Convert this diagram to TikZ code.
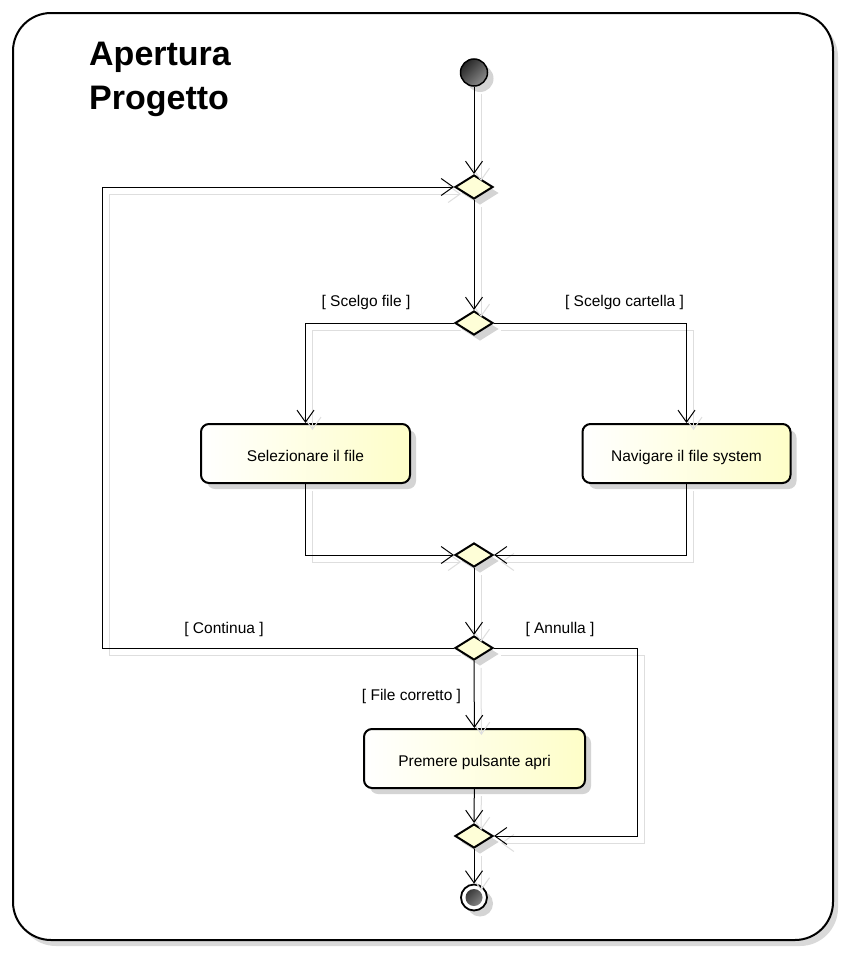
\documentclass[tikz,border=0pt]{standalone}
\usepackage{fontspec}
\setmainfont{Liberation Sans}
\usetikzlibrary{arrows.meta,shapes.geometric,shadows}
\definecolor{lyel}{RGB}{254,254,200}
\definecolor{dyel}{RGB}{254,254,215}
\newcommand{\lab}{\fontsize{15.5}{18}\selectfont}
\begin{document}
\begin{tikzpicture}[x=1pt,y=-1pt,
  lshadow/.style={preaction={draw=black!13, line width=1pt, transform canvas={shift={(7pt,-7pt)}}}},
  conn/.style={line width=1pt, -{Straight Barb[length=12pt,width=17pt,line width=1pt]}, lshadow},
  nshadow/.style={drop shadow={shadow xshift=6pt, shadow yshift=-6pt, fill=black!17, opacity=1}},
  actbox/.style={draw, line width=2pt, rounded corners=8pt, minimum height=59pt, inner sep=0pt,
     text height=15.5pt, text depth=0pt,
     left color=white, right color=lyel, nshadow, font=\lab},
  dec/.style={diamond, draw, line width=2pt, minimum width=38pt, minimum height=24pt, inner sep=0pt,
     left color=dyel, right color=dyel, nshadow},
  lbl/.style={anchor=base, font=\lab, inner sep=0pt}
]
\useasboundingbox (0,0) rectangle (846,953);
% frame
\draw[line width=2pt, rounded corners=38pt, fill=white,
      drop shadow={shadow xshift=5pt, shadow yshift=-6pt, fill=black!15, opacity=1}]
      (13,13) rectangle (833,940);
% title
\node[anchor=north west, inner sep=0pt, align=left, font=\fontsize{34}{44}\selectfont\bfseries]
  (title) at (89,42) {Apertura\\Progetto};
% nodes
\node[circle, draw, line width=1.5pt, minimum size=27pt, inner sep=0pt,
      top color=black!85, bottom color=black!45, shading angle=45, nshadow] (start) at (474,72.5) {};
\node[dec] (d1) at (474,187) {};
\node[dec] (d2) at (474,323) {};
\node[actbox, minimum width=209pt] (b1) at (305.5,453.5) {Selezionare il file};
\node[actbox, minimum width=208pt] (b2) at (686.5,453.5) {Navigare il file system};
\node[dec] (d3) at (474,555) {};
\node[dec] (d4) at (474,648) {};
\node[actbox, minimum width=221pt] (b3) at (474.5,758.5) {Premere pulsante apri};
\node[dec] (d5) at (474,836) {};
\node[circle, draw, line width=1.8pt, minimum size=26pt, inner sep=0pt, fill=white, nshadow,
      path picture={\shade[top color=black!85, bottom color=black!40, shading angle=45]
        (path picture bounding box.center) circle (8.5pt);}] (endn) at (474,897.5) {};
\coordinate (cl) at (102,648);
\coordinate (cr) at (637,648);
% connectors
\draw[conn] (start) -- (d1);
\draw[conn] (d1) -- (d2);
\draw[conn] (d2.west) -| (b1.north);
\draw[conn] (d2.east) -| (b2.north);
\draw[conn] (b1.south) |- (d3.west);
\draw[conn] (b2.south) |- (d3.east);
\draw[conn] (d3) -- (d4);
\draw[conn] (d4.west) -- (cl) |- (d1.west);
\draw[conn] (d4.east) -- (cr) |- (d5.east);
\draw[conn] (d4) -- (b3);
\draw[conn] (b3) -- (d5);
\draw[conn] (d5) -- (endn);
% guard labels
\node[lbl] (gsf) at (366,306) {[ Scelgo file ]};
\node[lbl] (gsc) at (624.5,306) {[ Scelgo cartella ]};
\node[lbl] (gco) at (224,633) {[ Continua ]};
\node[lbl] (gan) at (560,633) {[ Annulla ]};
\node[lbl] (gfc) at (411.5,700) {[ File corretto ]};
\end{tikzpicture}
\end{document}
